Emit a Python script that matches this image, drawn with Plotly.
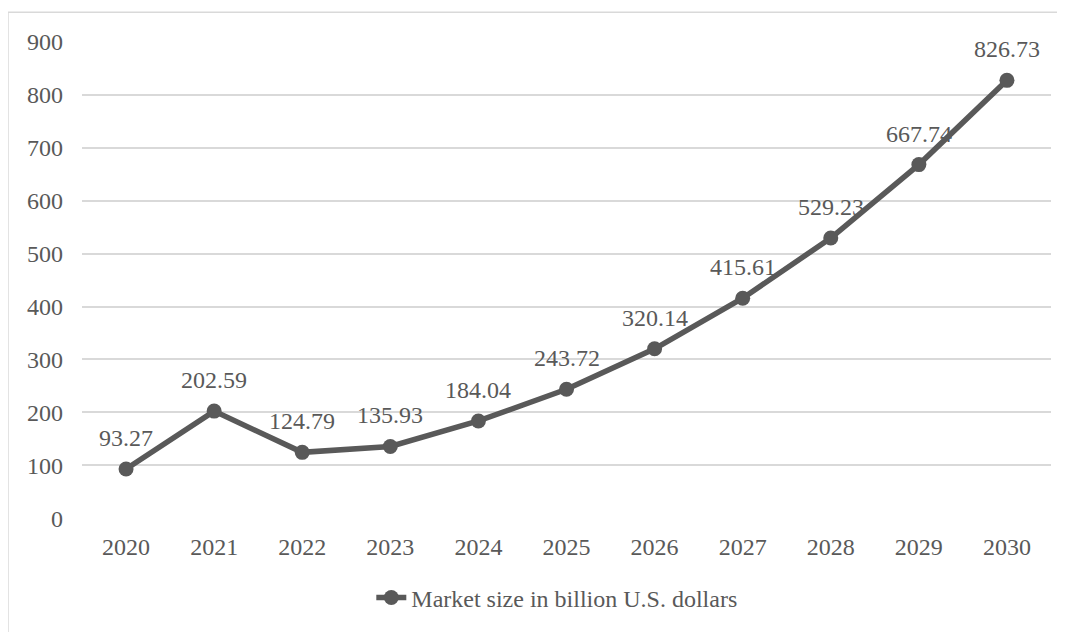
import plotly.graph_objects as go

years = ["2020", "2021", "2022", "2023", "2024", "2025", "2026", "2027", "2028", "2029", "2030"]
values = [93.27, 202.59, 124.79, 135.93, 184.04, 243.72, 320.14, 415.61, 529.23, 667.74, 826.73]
series_name = "Market size in billion U.S. dollars"
y_ticks = [0, 100, 200, 300, 400, 500, 600, 700, 800, 900]

color = "#595959"
font_family = "Liberation Serif, Times New Roman, serif"
fs = 24

fig = go.Figure()
fig.add_trace(go.Scatter(
    x=years, y=values, mode="lines+markers", name=series_name,
    line=dict(color=color, width=5.5),
    marker=dict(color=color, size=15),
))

for i, v in enumerate(values):
    fig.add_annotation(x=i, y=v, text=f"{v:.2f}", showarrow=False,
                       yshift=31, font=dict(size=fs, color=color, family=font_family))

fig.add_shape(type="rect", xref="paper", yref="paper",
              x0=-0.0764, x1=1.03, y0=-0.3, y1=1.0604,
              line=dict(color="#d9d9d9", width=1.5), layer="below")

fig.update_layout(
    width=1057, height=624,
    margin=dict(l=74, r=14, t=33, b=111),
    paper_bgcolor="white", plot_bgcolor="white",
    font=dict(family=font_family, size=fs, color=color),
    showlegend=True,
    legend=dict(orientation="h", x=0.49, xanchor="center", y=-0.165, yanchor="middle",
                font=dict(size=fs, color=color, family=font_family)),
)
fig.update_xaxes(type="category", range=[-0.5, len(years) - 0.5], showgrid=False,
                 showline=False, zeroline=False, ticks="", ticklabelstandoff=11)
fig.update_yaxes(range=[-1, 901], tickvals=y_ticks, showgrid=True, gridcolor="#d9d9d9",
                 gridwidth=1.5, zeroline=False, showline=False, ticks="", ticklabelstandoff=18)

fig.write_html("out.html")
